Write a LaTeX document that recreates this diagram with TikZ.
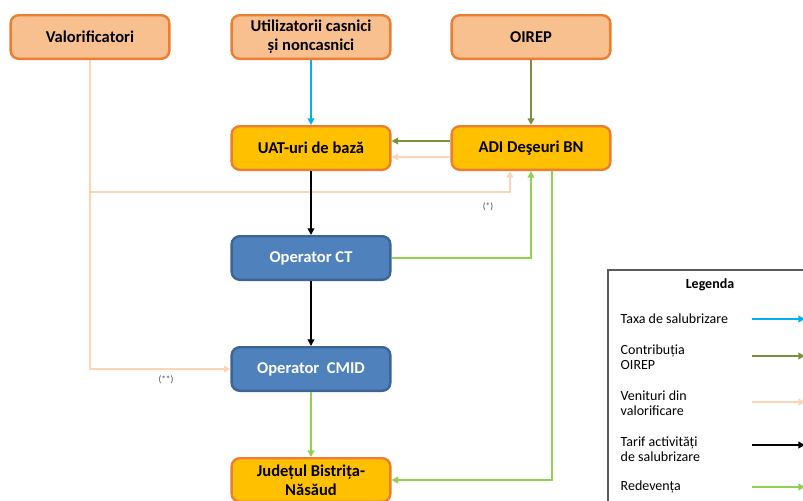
\documentclass[tikz,border=0pt]{standalone}
\usepackage{fontspec}
\setmainfont{Carlito}
\usetikzlibrary{positioning,arrows.meta}

\definecolor{peachfill}{HTML}{F8BF8F}
\definecolor{orangeline}{HTML}{ED7D31}
\definecolor{goldfill}{HTML}{FFC000}
\definecolor{bluefill}{HTML}{4F81BD}
\definecolor{blueline}{HTML}{3A6595}
\definecolor{taxblue}{HTML}{00B0F0}
\definecolor{oirepgreen}{HTML}{77933C}
\definecolor{peachline}{HTML}{FBD5B5}
\definecolor{lightgreen}{HTML}{92D050}
\definecolor{legendline}{HTML}{595959}

\begin{document}
\begin{tikzpicture}[x=0.75pt,y=-0.75pt]
	\tikzset{box/.style={draw,
				rectangle,
				rounded corners=6pt,
				line width=1.8pt,
				minimum width=119pt,
				minimum height=32.7pt,
				inner sep=2pt,
				align=center,
				font=\bfseries\fontsize{12.4}{14}\selectfont},
			party/.style={box, draw=orangeline, fill=peachfill},
			office/.style={box, draw=orangeline, fill=goldfill},
			operator/.style={box, draw=blueline, fill=bluefill, text=white},
			flow/.style={line width=1.5pt,
				-{Triangle[length=5pt,width=5pt]}},
			note/.style={font=\fontsize{7}{8}\selectfont, text=black!70},
			entry/.style={anchor=west, align=left, font=\fontsize{10.5}{11.5}\selectfont}}
	\useasboundingbox (0,0) rectangle (803,500);
	% Nodes
	\node[party] (valor) at (90,37) {Valorificatori};
	\node[party] (users) at (311,37) {Utilizatorii casnici\\și noncasnici};
	\node[party] (oirep) at (531,37) {OIREP};
	\node[office] (uat) at (311,148) {UAT-uri de bază};
	\node[office] (adi) at (531,148) {ADI Deşeuri BN};
	\node[operator] (ct) at (311,258) {Operator CT};
	\node[operator] (cmid) at (311,369) {Operator~~CMID};
	\node[office] (county) at (311,480) {Județul Bistrița-\\Năsăud};
	\coordinate (split) at (90,192);
	\node[note] (star) at (488,207) {(*)};
	\node[note] (dstar) at (166,380) {(**)};

	% Arrows
	\draw[flow, taxblue] (users) -- (uat);
	\draw[flow, oirepgreen] (oirep) -- (adi);
	\draw[flow, oirepgreen] ([yshift=5.25pt]adi.west) -- ([yshift=5.25pt]uat.east);
	\draw[flow, peachline] ([yshift=-6.75pt]adi.west) -- ([yshift=-6.75pt]uat.east);
	\draw[flow, peachline] (valor.south) |- (cmid.west);
	\draw[flow, peachline] (split) -| ([xshift=-15.75pt]adi.south);
	\draw[flow, black] (uat) -- (ct);
	\draw[flow, black] (ct) -- (cmid);
	\draw[flow, lightgreen] (ct.east) -| (adi.south);
	\draw[flow, lightgreen] ([xshift=15.75pt]adi.south) |- (county.east);
	\draw[flow, lightgreen] (cmid) -- (county);

	% Legend
	\draw[legendline, line width=1.1pt] (608,270) rectangle (830,520);
	\node[font=\bfseries\fontsize{10.5}{12}\selectfont] (legtitle) at (710,285) {Legenda};
	\node[entry] (tax) at (616,319) {Taxa de salubrizare};
	\node[entry] (contrib) at (616,357) {Contribuția\\OIREP};
	\node[entry] (income) at (616,403) {Venituri din\\valorificare};
	\node[entry] (tariff) at (616,449) {Tarif activități\\de salubrizare};
	\node[entry] (fee) at (616,487) {Redevența};
	\foreach \y/\c in {319/taxblue, 356/oirepgreen, 402/peachline, 445/black, 487/lightgreen}
		\draw[flow, \c] (752,\y) -- (805,\y);
\end{tikzpicture}
\end{document}
